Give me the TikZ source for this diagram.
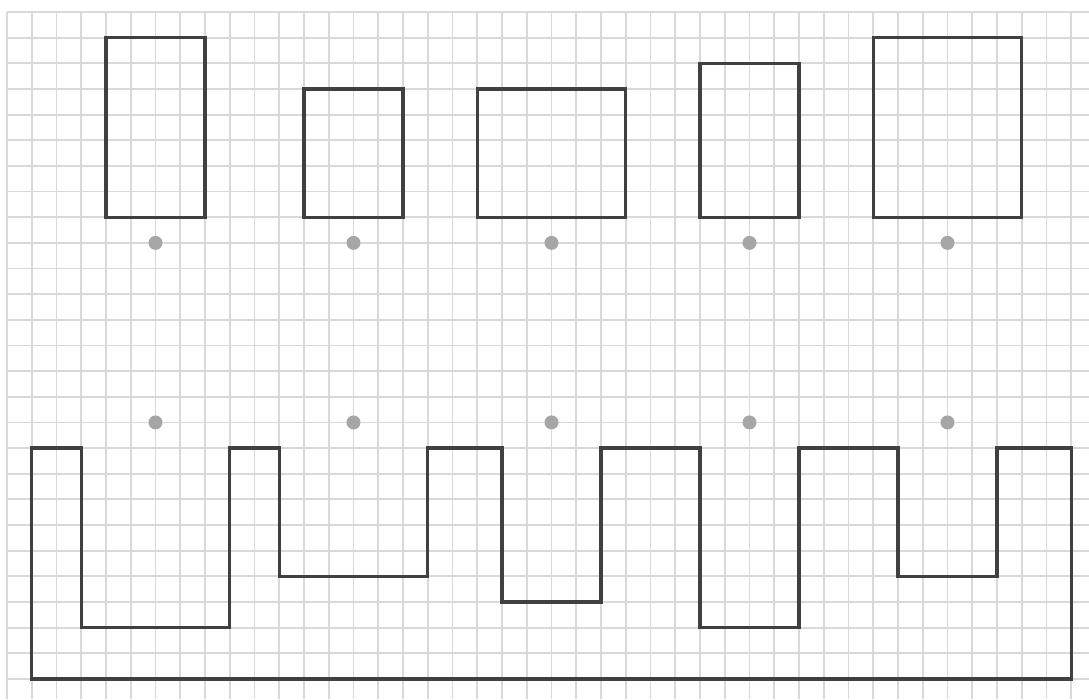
\documentclass[tikz,border=0pt]{standalone}
\definecolor{gridgray}{HTML}{D9D9D9}
\definecolor{shapegray}{HTML}{404040}
\definecolor{dotgray}{HTML}{A6A6A6}
\tikzset{
  gridline/.style={draw=gridgray, line width=1.8pt},
  outline/.style={draw=shapegray, line width=3.3pt, line join=miter},
  marker/.style={fill=dotgray}
}
\begin{document}
\begin{tikzpicture}[x=24.75pt, y=-25.65pt]
\useasboundingbox[fill=white] (-7pt,12pt) rectangle (1082pt,-687pt);
% grid
\foreach \i in {0,...,43} \draw[gridline] (\i,0) -- (\i,26.8);
\foreach \j in {0,...,26} \draw[gridline] (0,\j) -- (43.75,\j);
% rectangles
\draw[outline] (4,1) rectangle (8,8);
\draw[outline] (12,3) rectangle (16,8);
\draw[outline] (19,3) rectangle (25,8);
\draw[outline] (28,2) rectangle (32,8);
\draw[outline] (35,1) rectangle (41,8);
% dots
\foreach \c in {6,14,22,30,38} {
  \fill[marker] (\c,9) circle (7pt);
  \fill[marker] (\c,16) circle (7pt);
}
% bottom shape
\draw[outline] (1,26) -- (1,17) -- (3,17) -- (3,24) -- (9,24) -- (9,17) -- (11,17) -- (11,22) -- (17,22) -- (17,17)
  -- (20,17) -- (20,23) -- (24,23) -- (24,17) -- (28,17) -- (28,24) -- (32,24) -- (32,17) -- (36,17) -- (36,22)
  -- (40,22) -- (40,17) -- (43,17) -- (43,26) -- cycle;
\end{tikzpicture}
\end{document}
